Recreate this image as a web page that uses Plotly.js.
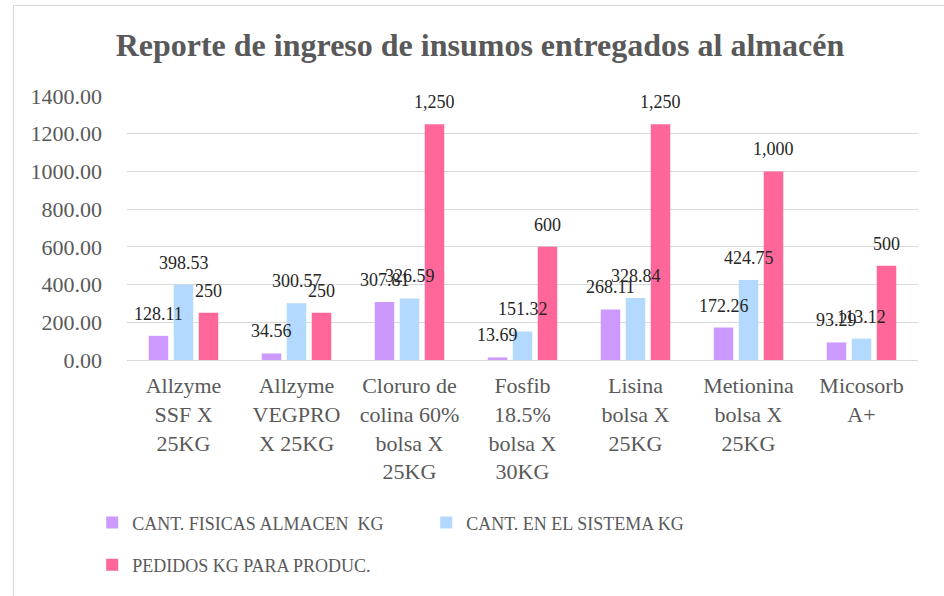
<!DOCTYPE html>
<html>
<head>
<meta charset="utf-8">
<script src="https://cdn.plot.ly/plotly-3.0.1.min.js"></script>
<style>
  html, body { margin: 0; padding: 0; overflow: hidden; background: #fff; }
  #wrap { position: absolute; left: 13px; top: 5px; width: 930px; height: 590px;
          border-left: 1px solid #d9d9d9; border-top: 1px solid #d9d9d9; }
  #chart { width: 930px; height: 590px; }
</style>
</head>
<body>
<div id="wrap"><div id="chart"></div></div>
<script>
const categories = [
  "Allzyme<br>SSF X<br>25KG",
  "Allzyme<br>VEGPRO<br>X 25KG",
  "Cloruro de<br>colina 60%<br>bolsa X<br>25KG",
  "Fosfib<br>18.5%<br>bolsa X<br>30KG",
  "Lisina<br>bolsa X<br>25KG",
  "Metionina<br>bolsa X<br>25KG",
  "Micosorb<br>A+"
];
const seriesNames = ["CANT. FISICAS ALMACEN  KG", "CANT. EN EL SISTEMA KG", "PEDIDOS KG PARA PRODUC."];
const fisicas = [128.11, 34.56, 307.81, 13.69, 268.11, 172.26, 93.29];
const sistema = [398.53, 300.57, 326.59, 151.32, 328.84, 424.75, 113.12];
const pedidos = [250, 250, 1250, 600, 1250, 1000, 500];
const yTicks = [0, 200, 400, 600, 800, 1000, 1200, 1400];

const serif = "Liberation Serif, Times New Roman, serif";
const grey = "#595959";
const labelFont = {family: serif, size: 18, color: "#262626"};

const series = [
  {name: seriesNames[0], y: fisicas, color: "#cc99ff", fmt: v => v.toFixed(2), legend: "legend", shift: -25},
  {name: seriesNames[1], y: sistema, color: "#b4d9ff", fmt: v => v.toFixed(2), legend: "legend", shift: 0},
  {name: seriesNames[2], y: pedidos, color: "#ff6699", fmt: v => v.toLocaleString("en-US"), legend: "legend2", shift: 25}
];

const data = series.map(s => ({
  type: "bar", name: s.name, x: categories, y: s.y,
  marker: {color: s.color},
  hoverinfo: "skip",
  legend: s.legend
}));

// data labels drawn on top of all bars (as in the reference)
const annotations = [];
series.forEach(s => {
  s.y.forEach((v, i) => {
    annotations.push({
      x: categories[i], y: v, xref: "x", yref: "y",
      text: s.fmt(v), showarrow: false,
      xanchor: "center", yanchor: "middle",
      xshift: s.shift, yshift: 22,
      font: labelFont
    });
  });
});

const legendFont = {family: serif, size: 18, color: grey};

const layout = {
  width: 930, height: 590,
  margin: {l: 113, r: 26, t: 90, b: 232},
  paper_bgcolor: "#ffffff", plot_bgcolor: "#ffffff",
  barmode: "group", bargap: 0.336, bargroupgap: 0.22,
  title: {
    text: "<b>Reporte de ingreso de insumos entregados al almacén</b>",
    font: {family: serif, size: 32, color: grey},
    xref: "container", x: 0.501, xanchor: "center",
    yref: "container", y: 1 - 39/590, yanchor: "middle"
  },
  xaxis: {
    type: "category",
    tickfont: {family: serif, size: 22, color: grey},
    showgrid: false, showline: true, linecolor: "#d9d9d9", linewidth: 1,
    ticks: "", ticklabelstandoff: 6, automargin: false
  },
  yaxis: {
    range: [0, 1400], tickvals: yTicks, tickformat: ".2f",
    tickfont: {family: serif, size: 22, color: grey},
    showgrid: true, gridcolor: "#d9d9d9", gridwidth: 1,
    zeroline: false, showline: false, ticks: "", ticklabelstandoff: 24,
    automargin: false
  },
  annotations: annotations,
  showlegend: true,
  legend: {
    orientation: "h", x: -0.044, xanchor: "left", y: -0.547, yanchor: "top",
    font: legendFont, entrywidth: 289, entrywidthmode: "pixels",
    itemwidth: 30, traceorder: "normal"
  },
  legend2: {
    orientation: "h", x: -0.044, xanchor: "left", y: -0.707, yanchor: "top",
    font: legendFont, itemwidth: 30
  }
};

Plotly.newPlot("chart", data, layout, {displayModeBar: false, staticPlot: true});
</script>
</body>
</html>
